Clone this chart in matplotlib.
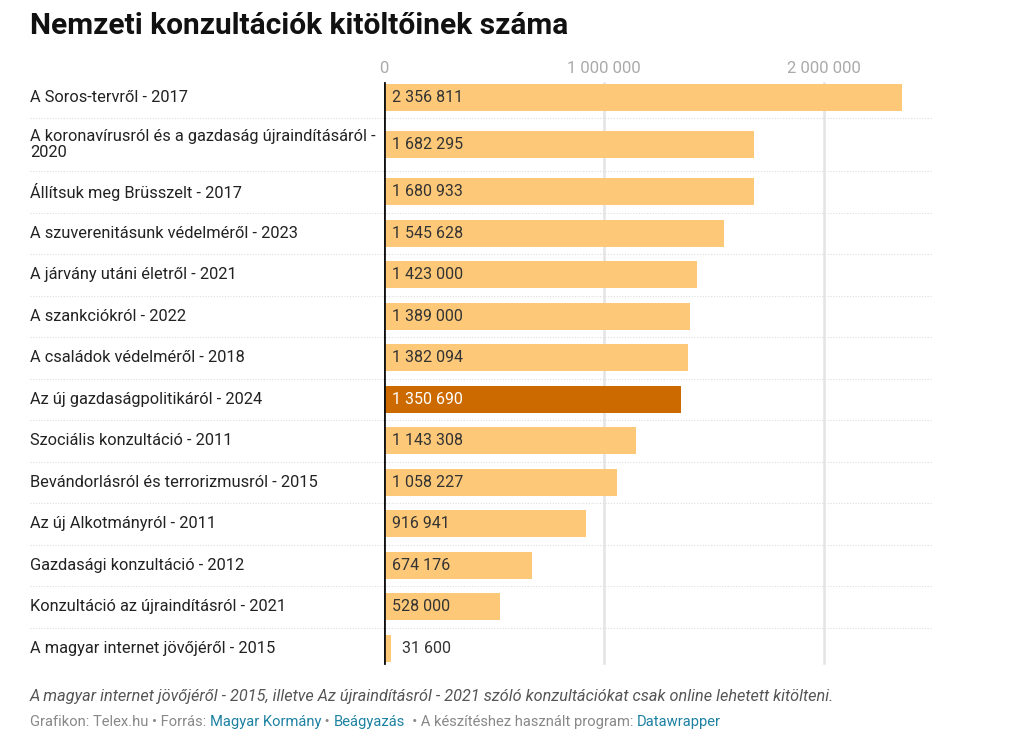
import matplotlib.pyplot as plt
from matplotlib.transforms import blended_transform_factory

plt.rcParams['font.family'] = ['Roboto', 'DejaVu Sans']

# adatok
labels = [
    "A Soros-tervről - 2017",
    "A koronavírusról és a gazdaság újraindításáról -\n2020",
    "Állítsuk meg Brüsszelt - 2017",
    "A szuverenitásunk védelméről - 2023",
    "A járvány utáni életről - 2021",
    "A szankciókról - 2022",
    "A családok védelméről - 2018",
    "Az új gazdaságpolitikáról - 2024",
    "Szociális konzultáció - 2011",
    "Bevándorlásról és terrorizmusról - 2015",
    "Az új Alkotmányról - 2011",
    "Gazdasági konzultáció - 2012",
    "Konzultáció az újraindításról - 2021",
    "A magyar internet jövőjéről - 2015",
]
values = [2356811, 1682295, 1680933, 1545628, 1423000, 1389000, 1382094,
          1350690, 1143308, 1058227, 916941, 674176, 528000, 31600]
highlight = "Az új gazdaságpolitikáról - 2024"
ticks = [0, 1000000, 2000000]

light = "#fdc979"
dark = "#cc6a00"

def fmt(v):
    return f"{v:,}".replace(",", " ")

# sormagasságok (a kétsoros címke magasabb sort kap)
heights = [53 if "\n" in l else 41.5 for l in labels]
heights[0] = 41
tops = []
pos = 0
for h in heights:
    tops.append(pos)
    pos += h
centers = [t + h / 2 for t, h in zip(tops, heights)]
total = pos

W, H = 1022, 733
top_px = 77
fig = plt.figure(figsize=(W / 100, H / 100), dpi=100)
ax = fig.add_axes([384 / W, 1 - (top_px + total) / H, 548 / W, total / H])

xmax = 548 / 220 * 1e6
ax.set_xlim(0, xmax)
ax.set_ylim(total, 0)

colors = [dark if l == highlight else light for l in labels]
ax.barh(centers, values, height=27, color=colors, zorder=2)

for x in ticks[1:]:
    ax.axvline(x, ymin=0.01, ymax=0.99, color="#e4e4e4", lw=1.8, zorder=1)
ax.axvline(0, ymin=0.01, ymax=0.99, color="#111111", lw=2, zorder=3)

# sorelválasztók
tr = blended_transform_factory(fig.transFigure, ax.transData)
for t in tops[1:]:
    ax.plot([30 / W, 932 / W], [t, t], transform=tr, color="#dddddd",
            lw=0.8, ls=(0, (1, 1.5)), clip_on=False, zorder=0)

# értékcímkék
for c, v, l in zip(centers, values, labels):
    if v < 150000:
        ax.annotate(fmt(v), (v, c), xytext=(8, 0), textcoords="offset points",
                    va="center", ha="left", fontsize=11.5, color="#333333")
    else:
        col = "white" if l == highlight else "#333333"
        ax.annotate(fmt(v), (0, c), xytext=(6, 0), textcoords="offset points",
                    va="center", ha="left", fontsize=11.5, color=col, zorder=4)

# kategóriacímkék
for c, l in zip(centers, labels):
    ax.text(30 / W, c, l, transform=tr, va="center", ha="left",
            fontsize=11.8, color="#222222", linespacing=1.05)

ax.set_yticks([])
ax.set_xticks(ticks)
ax.set_xticklabels([fmt(t) for t in ticks])
ax.xaxis.tick_top()
ax.tick_params(axis="x", length=0, pad=1, labelsize=12, labelcolor="#aaaaaa")
for s in ax.spines.values():
    s.set_visible(False)

fig.text(30 / W, 1 - 26 / H, "Nemzeti konzultációk kitöltőinek száma",
         fontsize=21.5, fontweight="bold", color="#111111", va="center")

fig.text(30 / W, 1 - 696 / H,
         "A magyar internet jövőjéről - 2015, illetve Az újraindításról - 2021 "
         "szóló konzultációkat csak online lehetett kitölteni.",
         fontsize=11.7, style="italic", color="#555555", va="center")

# forrássor, több színnel
parts = [
    ("Grafikon: Telex.hu • Forrás: ", "#888888"),
    ("Magyar Kormány", "#1d81a2"),
    (" • ", "#888888"),
    ("Beágyazás", "#1d81a2"),
    ("  • A készítéshez használt program: ", "#888888"),
    ("Datawrapper", "#1d81a2"),
]
prev = fig.text(30 / W, 1 - 722 / H, parts[0][0], fontsize=10.6,
                color=parts[0][1], va="center")
for s, col in parts[1:]:
    prev = ax.annotate(s, xy=(1, 0), xycoords=prev, va="bottom", ha="left",
                       fontsize=10.6, color=col, annotation_clip=False)

fig.savefig("out.png", dpi=100)
